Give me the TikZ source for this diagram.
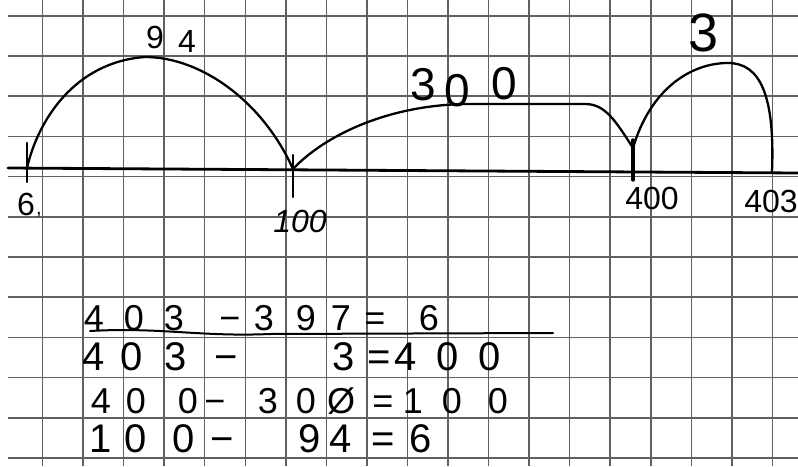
\documentclass[tikz,border=0pt]{standalone}
\usepackage{fontspec}
\setmainfont{Liberation Sans}
\begin{document}
\begin{tikzpicture}[x=1pt,y=-1pt,
  gridline/.style={black!62,line width=1.5pt},
  ink/.style={black,line width=2.3pt,line cap=round,line join=round},
  hw/.style={inner sep=0pt,anchor=base,font=\fontsize{36}{40}\selectfont},
  hwbig/.style={inner sep=0pt,anchor=base,font=\fontsize{40}{44}\selectfont},
  lab/.style={inner sep=0pt,anchor=base,font=\fontsize{32}{36}\selectfont}]
\useasboundingbox (0,0) rectangle (798,466);
\fill[white] (0,0) rectangle (798,466);
% grid paper
\foreach \k in {0,...,11} \draw[gridline] (8,15.8+40.2*\k) -- (798,15.8+40.2*\k);
\foreach \k in {0,...,18} \draw[gridline] (42.5+40.55*\k,0) -- (42.5+40.55*\k,466);
% number line
\coordinate (L) at (8,168);
\coordinate (R) at (798,173);
\draw[ink,line width=2.8pt] (L) -- (R);
\coordinate (p6) at (27,168);
\coordinate (p100) at (293,169);
\coordinate (p400) at (633,171);
\coordinate (p403) at (772,172);
\coordinate (j400) at (633,148);
\coordinate (t6a) at (27,143); \coordinate (t6b) at (27,182);
\coordinate (t100a) at (293,155); \coordinate (t100b) at (293,197);
\coordinate (t400a) at (633,140); \coordinate (t400b) at (633,180);
\draw[ink] (t6a) -- (t6b);
\draw[ink] (t100a) -- (t100b);
\draw[ink,line width=3.4pt] (t400a) -- (t400b);
% jumps
\draw[ink] (p6) .. controls (38,120) and (75,62) .. (145,57) .. controls (200,57) and (262,100) .. (p100);
\draw[ink] (p100) .. controls (325,135) and (390,104) .. (470,104) -- (585,104) .. controls (605,104) and (615,120) .. (j400);
\draw[ink] (j400) .. controls (650,90) and (690,63) .. (728,63) .. controls (760,63) and (775,95) .. (p403);
% jump labels
\node[lab] (l9) at (155,48) {9};
\node[lab] (l4) at (187,52) {4};
\node[inner sep=0pt,anchor=base,font=\fontsize{46}{50}\selectfont] (l300a) at (423,100) {3};
\node[inner sep=0pt,anchor=base,font=\fontsize{46}{50}\selectfont] (l300b) at (457,106) {0};
\node[inner sep=0pt,anchor=base,font=\fontsize{46}{50}\selectfont] (l300c) at (504,99) {0};
\node[inner sep=0pt,anchor=base,font=\fontsize{54}{60}\selectfont] (l3) at (704,51) {3};
% number labels
\node[lab] (n6) at (26,215) {6};
\node[inner sep=0pt,anchor=base,font=\fontsize{20}{22}\selectfont] (n6c) at (39,214) {,};
\node[lab,font=\fontsize{32}{36}\selectfont\itshape] (n100) at (300,232) {100};
\node[lab] (n400) at (652,209) {400};
\node[lab] (n403) at (771,212) {403};
% calculations
\foreach \x/\c [count=\i] in {94/4,134/0,174/3,230/−,264/3,306/9,341/7,375/=,429/6}
  \node[hw] (ra\i) at (\x,330) {\c};
\coordinate (u1) at (90,331);
\coordinate (u2) at (553,333);
\draw[ink,line width=2pt] (u1) .. controls (160,327) and (200,337) .. (270,334) -- (u2);
\foreach \x/\c [count=\i] in {94/4,132/0,176/3,226/−,344/3,379/=,406/4,448/0,490/0}
  \node[hwbig] (rb\i) at (\x,370) {\c};
\foreach \x/\c [count=\i] in {101/4,136/0,188/0,215/−,268/3,306/0,341/Ø,383/=,413/1,452/0,498/0}
  \node[hw] (rc\i) at (\x,413) {\c};
\foreach \x/\c [count=\i] in {101/1,136/0,184/0,222/−,310/9,341/4,383/=,421/6}
  \node[hwbig] (rd\i) at (\x,452) {\c};
\end{tikzpicture}
\end{document}
